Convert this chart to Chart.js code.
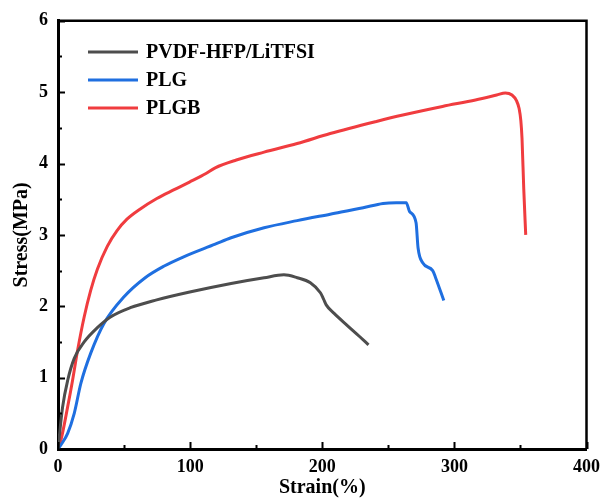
<!DOCTYPE html>
<html>
<head>
<meta charset="utf-8">
<script src="https://cdn.jsdelivr.net/npm/chart.js@4"></script>
<style>
  html, body { margin: 0; padding: 0; background: #fff; }
  #wrap { width: 608px; height: 501px; }
</style>
</head>
<body>
<div id="wrap"><canvas id="chart"></canvas></div>
<script>
// PVDF-HFP/LiTFSI
const pvdfX = [0, 3.5, 7.3, 12.3, 19.8, 29.8, 39.7, 54.7, 74.7, 99.7, 131, 156, 171, 181, 191, 198.6, 201, 203, 209, 219, 228, 235];
const pvdfY = [0, 0.59, 0.96, 1.27, 1.50, 1.70, 1.85, 1.98, 2.09, 2.2, 2.32, 2.40, 2.44, 2.40, 2.33, 2.19, 2.10, 2.02, 1.90, 1.73, 1.58, 1.46];

// PLG
const plgX = [0, 2.3, 7.3, 12.3, 17.3, 24.7, 34.8, 49.8, 66, 80, 94.7, 119, 131, 156, 181, 206, 231, 246, 256, 263.6, 266, 271, 272.5, 276, 283.6, 286, 292];
const plgY = [0, 0.06, 0.22, 0.5, 0.92, 1.34, 1.76, 2.13, 2.40, 2.56, 2.69, 2.87, 2.96, 3.10, 3.20, 3.29, 3.38, 3.44, 3.45, 3.45, 3.33, 3.17, 2.82, 2.61, 2.5, 2.39, 2.08];

// PLGB
const plgbX = [0, 2.3, 7.3, 11, 14.8, 19.8, 24.7, 29.8, 37.3, 44.7, 52.2, 62, 74.8, 87.5, 99.5, 112, 119, 135, 156, 181, 206, 241, 261, 291, 316, 332, 338.6, 343.6, 347, 349, 350.3, 351.2, 352.5, 354];
const plgbY = [0, 0.13, 0.59, 0.96, 1.38, 1.85, 2.22, 2.52, 2.84, 3.06, 3.22, 3.36, 3.51, 3.63, 3.74, 3.86, 3.94, 4.05, 4.16, 4.28, 4.42, 4.59, 4.68, 4.80, 4.89, 4.96, 4.99, 4.96, 4.88, 4.77, 4.6, 4.35, 3.65, 3.0];

const seriesNames = ['PVDF-HFP/LiTFSI', 'PLG', 'PLGB'];
const seriesColors = ['#4d4d4d', '#1f6fe0', '#f03c3f'];

const xMin = 0, xMax = 400, xStep = 50;
const yMin = 0, yMax = 6, yStep = 0.5;

const FONT = '"Liberation Serif", "Times New Roman", serif';

function toPoints(xs, ys) {
  return xs.map((x, i) => ({ x: x, y: ys[i] }));
}

// ticks drawn inside the plot, plus the top/right frame and the legend
const frameAndLegend = {
  id: 'frameAndLegend',
  afterDatasetsDraw(chart) {
    const { ctx, chartArea: a, scales: { x, y } } = chart;
    ctx.save();
    ctx.strokeStyle = '#000';
    ctx.lineWidth = 2;
    ctx.beginPath();
    x.ticks.forEach(t => {
      const px = Math.round(x.getPixelForValue(t.value)) + 0.5;
      const len = t.value % 100 === 0 ? 7 : 4;
      ctx.moveTo(px, a.bottom);
      ctx.lineTo(px, a.bottom - len);
    });
    y.ticks.forEach(t => {
      const py = Math.round(y.getPixelForValue(t.value)) + 0.5;
      const len = Number.isInteger(t.value) ? 7 : 4;
      ctx.moveTo(a.left, py);
      ctx.lineTo(a.left + len, py);
    });
    ctx.stroke();

    ctx.lineWidth = 2.5;
    ctx.beginPath();
    ctx.moveTo(a.left, a.top);
    ctx.lineTo(a.right, a.top);
    ctx.lineTo(a.right, a.bottom);
    ctx.stroke();

    // legend
    ctx.font = 'bold 20px ' + FONT;
    ctx.textBaseline = 'middle';
    ctx.fillStyle = '#000';
    chart.data.datasets.forEach((ds, i) => {
      const ly = 52 + i * 28;
      ctx.strokeStyle = ds.borderColor;
      ctx.lineWidth = 3;
      ctx.beginPath();
      ctx.moveTo(88, ly);
      ctx.lineTo(138, ly);
      ctx.stroke();
      ctx.fillText(ds.label, 146, ly + 1);
    });
    ctx.restore();
  }
};

new Chart(document.getElementById('chart'), {
  type: 'scatter',
  data: {
    datasets: [
      { label: seriesNames[0], data: toPoints(pvdfX, pvdfY), borderColor: seriesColors[0] },
      { label: seriesNames[1], data: toPoints(plgX, plgY), borderColor: seriesColors[1] },
      { label: seriesNames[2], data: toPoints(plgbX, plgbY), borderColor: seriesColors[2] }
    ]
  },
  options: {
    responsive: true,
    maintainAspectRatio: false,
    animation: false,
    layout: { padding: { top: 19, right: 16, left: 0, bottom: 0 } },
    datasets: {
      scatter: {
        showLine: true,
        pointRadius: 0,
        borderWidth: 3,
        cubicInterpolationMode: 'monotone',
        fill: false
      }
    },
    plugins: {
      legend: { display: false },
      tooltip: { enabled: false }
    },
    scales: {
      x: {
        type: 'linear',
        min: xMin, max: xMax,
        afterFit: s => { s.height = 52; },
        grid: { display: false, drawTicks: false },
        border: { display: true, color: '#000', width: 3 },
        ticks: {
          stepSize: xStep,
          padding: 8,
          color: '#000',
          font: { family: FONT, size: 18, weight: 'bold' },
          maxRotation: 0,
          callback: v => (v % 100 === 0 ? String(v) : '')
        },
        title: {
          display: true,
          text: 'Strain(%)',
          color: '#000',
          font: { family: FONT, size: 20, weight: 'bold' },
          padding: { top: 0, bottom: 1 }
        }
      },
      y: {
        type: 'linear',
        min: yMin, max: yMax,
        afterFit: s => { s.width = 58; },
        grid: { display: false, drawTicks: false },
        border: { display: true, color: '#000', width: 3 },
        ticks: {
          stepSize: yStep,
          padding: 10,
          color: '#000',
          font: { family: FONT, size: 18, weight: 'bold' },
          callback: v => (Number.isInteger(v) ? String(v) : '')
        },
        title: {
          display: true,
          text: 'Stress(MPa)',
          color: '#000',
          font: { family: FONT, size: 20, weight: 'bold' },
          padding: { top: 10, bottom: 0 }
        }
      }
    }
  },
  plugins: [frameAndLegend]
});
</script>
</body>
</html>
